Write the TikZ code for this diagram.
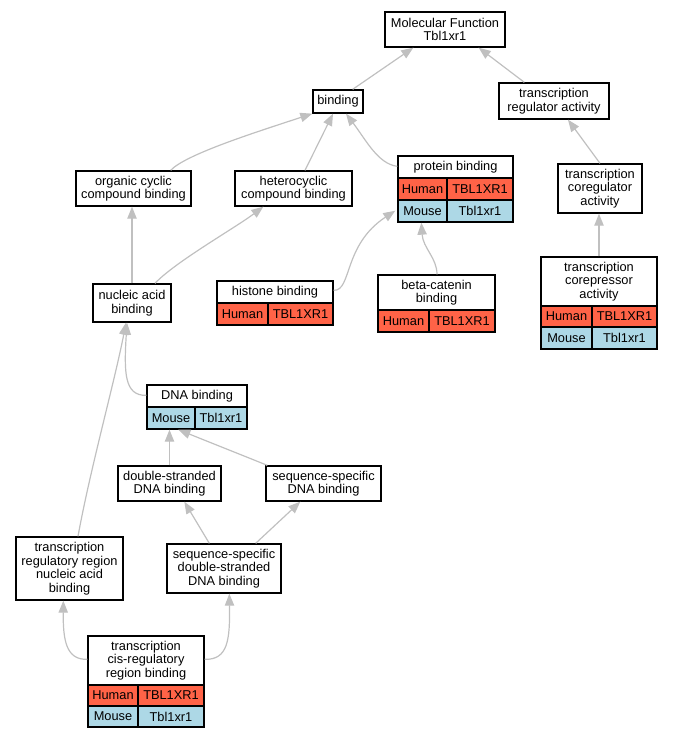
\documentclass[tikz,border=0pt]{standalone}
\usepackage{fontspec}
\setmainfont{Liberation Sans}
\usetikzlibrary{arrows.meta,fit,calc}
\definecolor{human}{HTML}{FF6347}
\definecolor{mouse}{HTML}{ADD8E6}
\definecolor{edgegray}{HTML}{C0C0C0}
\tikzset{
  gobox/.style={draw=black, line width=1pt, inner sep=0pt, fit={#1}},
  lbl/.style={align=center, inner sep=0pt, font=\fontsize{9.6}{10.1}\selectfont},
  cell/.style={draw=black, line width=0.8pt},
  goedge/.style={draw=edgegray, line width=0.9pt, -{Triangle[length=9pt,width=7pt,fill=edgegray]}},
}
% row: x1 xs x2 y1 y2 colour name lefttext righttext
\newcommand{\gorow}[9]{%
  \draw[cell,fill=#6] (#1,#4) rectangle (#2,#5);
  \draw[cell,fill=#6] (#2,#4) rectangle (#3,#5);
  \node[lbl] (#7L) at ({(#1+#2)/2},{(#4+#5)/2}) {#8};
  \node[lbl] (#7R) at ({(#2+#3)/2},{(#4+#5)/2}) {#9};
}
\begin{document}
\begin{tikzpicture}[x=0.75pt,y=-0.75pt]
\useasboundingbox (0,0) rectangle (672,739);

% ---------- boxes ----------
\node[gobox={(385,12) (505,47)}] (mf) {};
\node[lbl] (mfT) at (mf.center) {Molecular Function\\Tbl1xr1};

\node[gobox={(313,90) (363,113)}] (bind) {};
\node[lbl] (bindT) at (bind.center) {binding};

\node[gobox={(499,83) (609,119)}] (tra) {};
\node[lbl] (traT) at (tra.center) {transcription\\regulator activity};

\node[gobox={(76,171) (191,206)}] (occ) {};
\node[lbl] (occT) at (occ.center) {organic cyclic\\compound binding};

\node[gobox={(235,171) (352,206)}] (hcb) {};
\node[lbl] (hcbT) at (hcb.center) {heterocyclic\\compound binding};

% protein binding
\gorow{398}{447}{513}{178}{200}{human}{pbh}{Human}{TBL1XR1}
\gorow{398}{447}{513}{200}{222}{mouse}{pbm}{Mouse}{Tbl1xr1}
\node[lbl] (pbT) at (455.5,167) {protein binding};
\node[gobox={(398,156) (513,222)}] (pb) {};

\node[gobox={(558,164) (642,213)}] (tcoreg) {};
\node[lbl] (tcoregT) at (tcoreg.center) {transcription\\coregulator\\activity};

% histone binding
\gorow{217}{268}{333}{303}{325}{human}{hbh}{Human}{TBL1XR1}
\node[lbl] (hbT) at (275,292) {histone binding};
\node[gobox={(217,281) (333,325)}] (hb) {};

% beta-catenin binding
\gorow{378}{429}{495}{310}{332}{human}{bch}{Human}{TBL1XR1}
\node[lbl] (bcT) at (436.5,292.5) {beta-catenin\\binding};
\node[gobox={(378,275) (495,332)}] (bcb) {};

\node[gobox={(93,284) (171,322)}] (nab) {};
\node[lbl] (nabT) at (nab.center) {nucleic acid\\binding};

% transcription corepressor activity
\gorow{541}{592}{657}{306}{327}{human}{tch}{Human}{TBL1XR1}
\gorow{541}{592}{657}{327}{349}{mouse}{tcm}{Mouse}{Tbl1xr1}
\node[lbl] (tcT) at (599,281.5) {transcription\\corepressor\\activity};
\node[gobox={(541,257) (657,349)}] (tcorep) {};

% DNA binding
\gorow{147}{195}{247}{407}{429}{mouse}{dbm}{Mouse}{Tbl1xr1}
\node[lbl] (dbT) at (197,396) {DNA binding};
\node[gobox={(147,385) (247,429)}] (dnab) {};

\node[gobox={(118,466) (221,501)}] (dsdb) {};
\node[lbl] (dsdbT) at (dsdb.center) {double-stranded\\DNA binding};

\node[gobox={(266,466) (381,501)}] (ssdb) {};
\node[lbl] (ssdbT) at (ssdb.center) {sequence-specific\\DNA binding};

\node[gobox={(16,537) (123,600)}] (trr) {};
\node[lbl] (trrT) at (trr.center) {transcription\\regulatory region\\nucleic acid\\binding};

\node[gobox={(167,544) (281,593)}] (ssds) {};
\node[lbl] (ssdsT) at (ssds.center) {sequence-specific\\double-stranded\\DNA binding};

% transcription cis-regulatory region binding
\gorow{88}{138}{204}{685}{706}{human}{crh}{Human}{TBL1XR1}
\gorow{88}{138}{204}{706}{727}{mouse}{crm}{Mouse}{Tbl1xr1}
\node[lbl] (crT) at (146,660.5) {transcription\\cis-regulatory\\region binding};
\node[gobox={(88,636) (204,727)}] (tcrr) {};

% ---------- edges ----------
\draw[goedge] ($(bind.north east)+(-11,0)$) -- ($(mf.south west)+(29,0)$);
\draw[goedge] ($(tra.north west)+(26,0)$) -- ($(mf.south east)+(-27,0)$);
\draw[goedge] ($(occ.north east)+(-21,0)$) .. controls (185,155) and (250,134) .. (bind.south west);
\draw[goedge] ($(hcb.north)+(11.5,0)$) -- ($(bind.south)+(-5,0)$);
\draw[goedge] ($(pb.north west)+(0,11)$) .. controls (378,164) and (366,140) .. ($(bind.south)+(8,0)$);
\draw[goedge] (tcoreg.north) -- ($(tra.south)+(14,0)$);
\draw[goedge] (tcorep.north) -- (tcorep.north |- tcoreg.south);
\draw[goedge] ($(hb.north east)+(0,10)$) .. controls (352,291) and (343,245) .. ($(pb.south west)+(-2,-12)$);
\draw[goedge] ($(bcb.north)+(0.5,0)$) .. controls (437,258) and (423,248) .. ($(pb.south west)+(24,0)$);
\draw[goedge] (nab.north) -- (nab.north |- occ.south);
\draw[goedge] ($(nab.north)+(23,0)$) .. controls (175,262) and (235,228) .. ($(hcb.south west)+(29,0)$);
\draw[goedge] ($(dnab.north west)+(0,11)$) .. controls (124,396) and (124,372) .. ($(nab.south)+(-5,0)$);
\draw[goedge] ($(trr.north)+(8.5,0)$) .. controls (90,470) and (115,380) .. ($(nab.south)+(-6,0)$);
\draw[goedge] (dsdb.north) -- (dsdb.north |- dnab.south);
\draw[goedge] ($(ssdb.north west)+(2,0)$) -- ($(dnab.south west)+(32,0)$);
\draw[goedge] ($(ssds.north west)+(43,0)$) -- ($(dsdb.south west)+(67,0)$);
\draw[goedge] ($(ssds.north east)+(-26,0)$) -- ($(ssdb.south west)+(35,0)$);
\draw[goedge] ($(tcrr.north west)+(0,24)$) .. controls (66,660) and (63,640) .. ($(trr.south west)+(48,0)$);
\draw[goedge] ($(tcrr.north east)+(0,24)$) .. controls (228,660) and (230,640) .. ($(ssds.south west)+(63,0)$);
\end{tikzpicture}
\end{document}
